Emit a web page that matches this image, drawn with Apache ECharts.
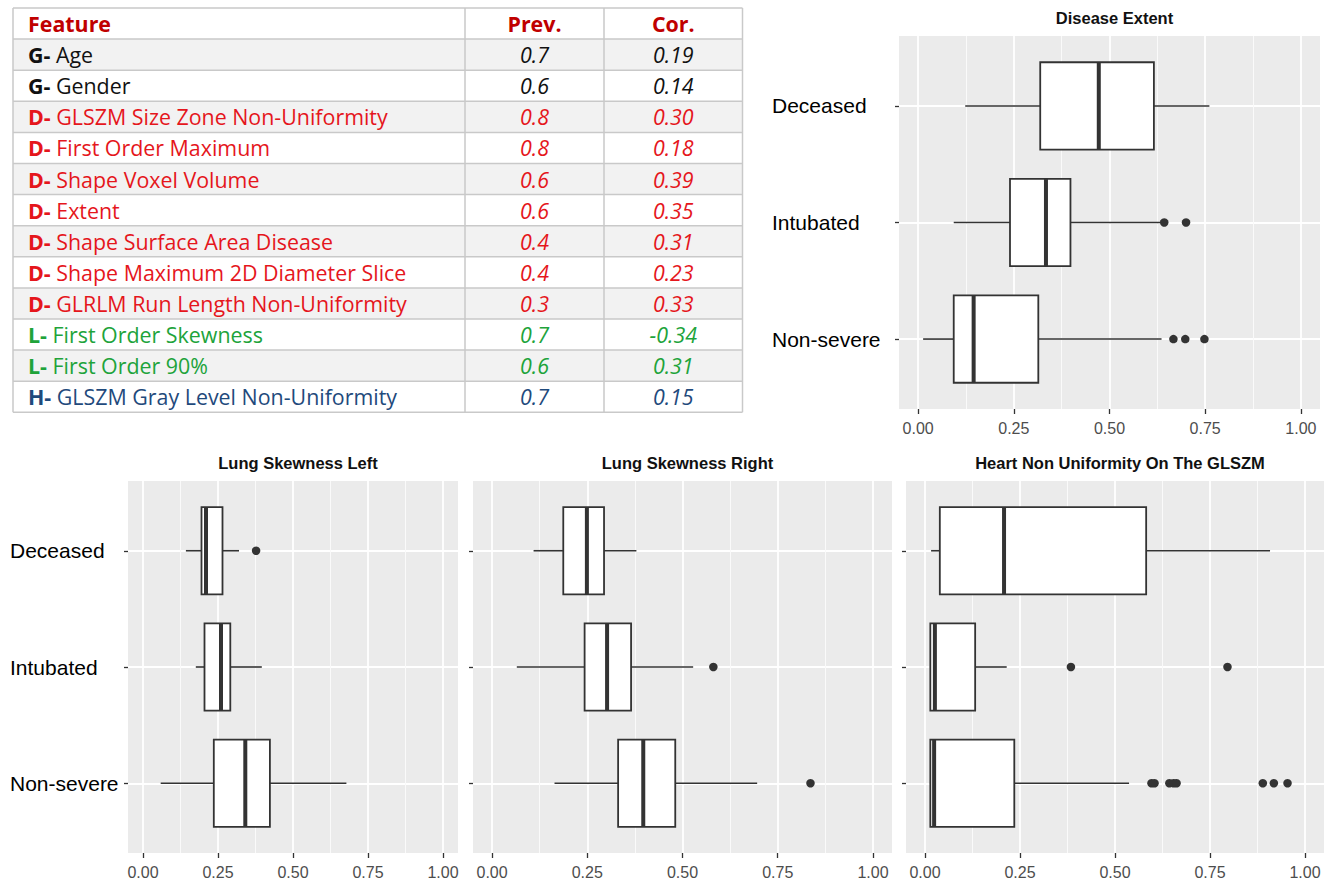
<!DOCTYPE html>
<html><head><meta charset="utf-8">
<script src="https://cdn.jsdelivr.net/npm/echarts@6/dist/echarts.min.js"></script>
<style>html,body{margin:0;padding:0;background:#fff}#c{width:1329px;height:885px}</style>
</head><body><div id="c"></div>
<script>
// ---------- data ----------
const groups = ['Deceased', 'Intubated', 'Non-severe'];
const xTicks = [0, 0.25, 0.5, 0.75, 1];
const xMinorTicks = [0.125, 0.375, 0.625, 0.875];
const yTicks = [0, 1, 2];

// [min, Q1, median, Q3, max] per group
const extentStats = [
  [0.123, 0.319, 0.472, 0.616, 0.761],
  [0.093, 0.240, 0.334, 0.398, 0.636],
  [0.013, 0.093, 0.145, 0.314, 0.636]
];
const extentOutliers = [[], [0.643, 0.700], [0.667, 0.698, 0.748]];

const lungLeftStats = [
  [0.143, 0.195, 0.210, 0.265, 0.320],
  [0.176, 0.205, 0.260, 0.291, 0.396],
  [0.059, 0.236, 0.341, 0.423, 0.678]
];
const lungLeftOutliers = [[0.377], [], []];

const lungRightStats = [
  [0.109, 0.187, 0.249, 0.294, 0.379],
  [0.065, 0.243, 0.302, 0.365, 0.528],
  [0.164, 0.331, 0.397, 0.481, 0.696]
];
const lungRightOutliers = [[], [0.581], [0.836]];

const heartStats = [
  [0.016, 0.039, 0.208, 0.582, 0.908],
  [0.013, 0.014, 0.026, 0.132, 0.215],
  [0.013, 0.014, 0.024, 0.235, 0.537]
];
const heartOutliers = [[], [0.384, 0.796], [0.596, 0.604, 0.643, 0.654, 0.662, 0.889, 0.918, 0.954]];

const panelTitles = ['Disease Extent', 'Lung Skewness Left', 'Lung Skewness Right', 'Heart Non Uniformity On The GLSZM'];

// table
const tableHeader = ['Feature', 'Prev.', 'Cor.'];
const featureGroup = ['G', 'G', 'D', 'D', 'D', 'D', 'D', 'D', 'D', 'L', 'L', 'H'];
const featureName = ['Age', 'Gender', 'GLSZM Size Zone Non-Uniformity', 'First Order Maximum',
  'Shape Voxel Volume', 'Extent', 'Shape Surface Area Disease', 'Shape Maximum 2D Diameter Slice',
  'GLRLM Run Length Non-Uniformity', 'First Order Skewness', 'First Order 90%', 'GLSZM Gray Level Non-Uniformity'];
const prevValues = ['0.7', '0.6', '0.8', '0.8', '0.6', '0.6', '0.4', '0.4', '0.3', '0.7', '0.6', '0.7'];
const corValues = ['0.19', '0.14', '0.30', '0.18', '0.39', '0.35', '0.31', '0.23', '0.33', '-0.34', '0.31', '0.15'];

// ---------- styles / layout ----------
const groupColor = { G: '#111111', D: '#e5161c', L: '#20a33a', H: '#1f4a7c' };
const headerColor = '#c00000';
const tableFont = '"Open Sans", "Liberation Sans", sans-serif';
const tableFontSize = 21.4;
const plotFont = '"Liberation Sans", Arial, sans-serif';
const ink = '#333333';

const panels = [
  { stats: extentStats, outliers: extentOutliers, grid: { left: 899, top: 36, width: 421, height: 373 }, labels: true, labelMargin: 127, titleTop: 4 },
  { stats: lungLeftStats, outliers: lungLeftOutliers, grid: { left: 128, top: 481, width: 330, height: 372 }, labels: true, labelMargin: 118, titleTop: 449 },
  { stats: lungRightStats, outliers: lungRightOutliers, grid: { left: 473, top: 481, width: 419, height: 372 }, labels: false, labelMargin: 8, titleTop: 449 },
  { stats: heartStats, outliers: heartOutliers, grid: { left: 906, top: 481, width: 418, height: 372 }, labels: false, labelMargin: 8, titleTop: 449 }
];

const tbl = { left: 13, right: 742.5, top: 8, rowH: 31.1, col1: 465, col2: 604, textX: 28 };

// ---------- build option ----------
const grids = [], xAxes = [], yAxes = [], series = [], titles = [];

function renderBox(params, api) {
  const pos = api.value(0);
  const lo = api.coord([api.value(1), pos]);
  const q1 = api.coord([api.value(2), pos]);
  const md = api.coord([api.value(3), pos]);
  const q3 = api.coord([api.value(4), pos]);
  const hi = api.coord([api.value(5), pos]);
  const h = api.size([0, 0.75])[1];
  const y = q1[1];
  return {
    type: 'group',
    children: [
      { type: 'line', shape: { x1: lo[0], y1: y, x2: q1[0], y2: y }, style: { stroke: ink, lineWidth: 1.6 } },
      { type: 'line', shape: { x1: q3[0], y1: y, x2: hi[0], y2: y }, style: { stroke: ink, lineWidth: 1.6 } },
      { type: 'rect', shape: { x: q1[0], y: y - h / 2, width: q3[0] - q1[0], height: h }, style: { fill: '#ffffff', stroke: ink, lineWidth: 1.8 } },
      { type: 'line', shape: { x1: md[0], y1: y - h / 2, x2: md[0], y2: y + h / 2 }, style: { stroke: ink, lineWidth: 4 } }
    ]
  };
}

panels.forEach((p, k) => {
  grids.push(Object.assign({ show: true, backgroundColor: '#ebebeb', borderWidth: 0, containLabel: false, outerBoundsMode: 'none' }, p.grid));
  xAxes.push({
    type: 'value', gridIndex: k, min: -0.05, max: 1.05, position: 'bottom',
    axisLine: { show: false, onZero: false },
    axisTick: { show: true, length: 5, customValues: xTicks, lineStyle: { color: ink, width: 1.3 } },
    axisLabel: { show: true, customValues: xTicks, formatter: v => Number(v).toFixed(2), color: '#4d4d4d', fontSize: 16, fontFamily: plotFont, margin: 11 },
    splitLine: { show: true, lineStyle: { color: '#ffffff', width: 1.8 } }
  });
  xAxes.push({
    type: 'value', gridIndex: k, min: -0.05, max: 1.05, position: 'top',
    axisLine: { show: false, onZero: false },
    axisTick: { show: false, customValues: xMinorTicks },
    axisLabel: { show: false, customValues: xMinorTicks },
    splitLine: { show: true, lineStyle: { color: '#fafafa', width: 1 } }
  });
  yAxes.push({
    type: 'value', gridIndex: k, min: -0.6, max: 2.6, inverse: true, position: 'left',
    axisLine: { show: false, onZero: false },
    axisTick: { show: true, length: 4, customValues: yTicks, lineStyle: { color: ink, width: 1.3 } },
    axisLabel: { show: p.labels, customValues: yTicks, formatter: v => groups[Math.round(v)], align: 'left',
      margin: p.labelMargin, fontSize: 21, color: '#000000', fontFamily: plotFont },
    splitLine: { show: true, lineStyle: { color: '#ffffff', width: 1.8 } }
  });
  series.push({
    type: 'custom', name: panelTitles[k] + ' box', xAxisIndex: 2 * k, yAxisIndex: k,
    data: p.stats.map((s, i) => [i].concat(s)),
    encode: { x: [1, 2, 3, 4, 5], y: 0 },
    renderItem: renderBox, silent: true, z: 3
  });
  const pts = [];
  p.outliers.forEach((arr, i) => arr.forEach(v => pts.push([v, i])));
  series.push({
    type: 'scatter', name: panelTitles[k] + ' outliers', xAxisIndex: 2 * k, yAxisIndex: k,
    data: pts, symbol: 'circle', symbolSize: 8.5, itemStyle: { color: ink, opacity: 1 }, silent: true, z: 4
  });
  titles.push({
    text: panelTitles[k], left: p.grid.left + p.grid.width / 2, top: p.titleTop, textAlign: 'center',
    textStyle: { fontSize: 16.5, fontWeight: 'bold', color: '#111111', fontFamily: plotFont }
  });
});

// ---------- table (graphic) ----------
const graphics = [];
const nRows = featureName.length + 1;
const tblBottom = tbl.top + nRows * tbl.rowH;
function txt(x, y, text, style) {
  return { type: 'text', x: x, y: y, silent: true, z: 10,
    style: Object.assign({ text: text, verticalAlign: 'middle', textVerticalAlign: 'middle' }, style) };
}
for (let r = 0; r < featureName.length; r++) {
  const yTop = tbl.top + (r + 1) * tbl.rowH;
  if (r % 2 === 0) {
    graphics.push({ type: 'rect', silent: true, z: 1, shape: { x: tbl.left, y: yTop, width: tbl.right - tbl.left, height: tbl.rowH }, style: { fill: '#f2f2f2' } });
  }
  const yc = yTop + tbl.rowH / 2;
  const col = groupColor[featureGroup[r]];
  graphics.push(txt(tbl.textX, yc, '{p|' + featureGroup[r] + '-} {n|' + featureName[r] + '}', {
    fill: col, fontSize: tableFontSize, fontFamily: tableFont, align: 'left', textAlign: 'left',
    rich: {
      p: { fill: col, fontSize: tableFontSize, fontFamily: tableFont, fontWeight: 'bold' },
      n: { fill: col, fontSize: tableFontSize, fontFamily: tableFont, fontWeight: 'normal' }
    }
  }));
  graphics.push(txt((tbl.col1 + tbl.col2) / 2, yc, prevValues[r], { fill: col, fontSize: tableFontSize, fontFamily: tableFont, fontStyle: 'italic', align: 'center', textAlign: 'center' }));
  graphics.push(txt((tbl.col2 + tbl.right) / 2, yc, corValues[r], { fill: col, fontSize: tableFontSize, fontFamily: tableFont, fontStyle: 'italic', align: 'center', textAlign: 'center' }));
}
const hy = tbl.top + tbl.rowH / 2;
graphics.push(txt(tbl.textX, hy, tableHeader[0], { fill: headerColor, fontSize: tableFontSize, fontFamily: tableFont, fontWeight: 'bold', align: 'left', textAlign: 'left' }));
graphics.push(txt((tbl.col1 + tbl.col2) / 2, hy, tableHeader[1], { fill: headerColor, fontSize: tableFontSize, fontFamily: tableFont, fontWeight: 'bold', align: 'center', textAlign: 'center' }));
graphics.push(txt((tbl.col2 + tbl.right) / 2, hy, tableHeader[2], { fill: headerColor, fontSize: tableFontSize, fontFamily: tableFont, fontWeight: 'bold', align: 'center', textAlign: 'center' }));
for (let r = 0; r <= nRows; r++) {
  const yy = tbl.top + r * tbl.rowH;
  graphics.push({ type: 'line', silent: true, z: 5, shape: { x1: tbl.left, y1: yy, x2: tbl.right, y2: yy }, style: { stroke: '#c9c9c9', lineWidth: 1.5 } });
}
[tbl.left, tbl.col1, tbl.col2, tbl.right].forEach(xx => {
  graphics.push({ type: 'line', silent: true, z: 5, shape: { x1: xx, y1: tbl.top, x2: xx, y2: tblBottom }, style: { stroke: '#c9c9c9', lineWidth: 1.5 } });
});

const chart = echarts.init(document.getElementById('c'), null, { renderer: 'svg', width: 1329, height: 885 });
chart.setOption({
  backgroundColor: '#ffffff',
  animation: false,
  title: titles,
  grid: grids,
  xAxis: xAxes,
  yAxis: yAxes,
  series: series,
  graphic: { elements: graphics }
});
</script>
</body></html>
